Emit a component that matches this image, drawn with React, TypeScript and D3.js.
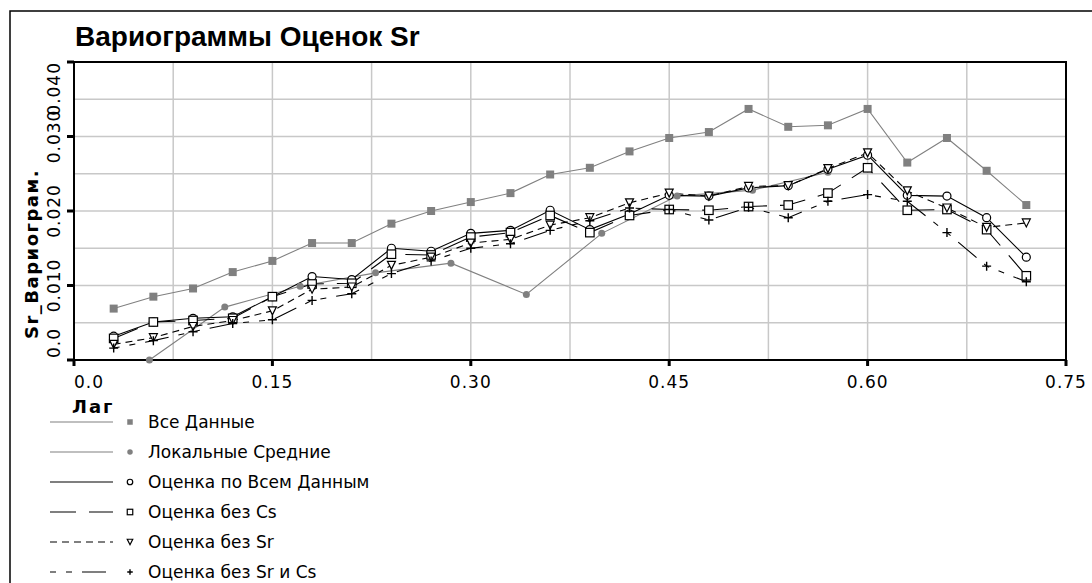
import React from "react";
import * as d3 from "d3";

const lags = [0.03, 0.06, 0.09, 0.12, 0.15, 0.18, 0.21, 0.24, 0.27, 0.30, 0.33, 0.36,
  0.39, 0.42, 0.45, 0.48, 0.51, 0.54, 0.57, 0.60, 0.63, 0.66, 0.69, 0.72];
const localLags = [0.057, 0.114, 0.171, 0.228, 0.285, 0.342, 0.399, 0.456, 0.513, 0.570];

const allData = [0.0069, 0.0085, 0.0096, 0.0118, 0.0133, 0.0157, 0.0157, 0.0183, 0.0200, 0.0212, 0.0224, 0.0249,
  0.0258, 0.0280, 0.0298, 0.0306, 0.0337, 0.0313, 0.0315, 0.0337, 0.0265, 0.0298, 0.0254, 0.0208];
const localMeans = [0.0, 0.0071, 0.0099, 0.0117, 0.0130, 0.0088, 0.0170, 0.0220, 0.0228, 0.0252];
const estAll = [0.0032, 0.0051, 0.0056, 0.0058, 0.0085, 0.0112, 0.0108, 0.0150, 0.0146, 0.0170, 0.0174, 0.0201,
  0.0175, 0.0196, 0.0221, 0.0220, 0.0231, 0.0234, 0.0256, 0.0275, 0.0221, 0.0220, 0.0191, 0.0138];
const estNoCs = [0.0029, 0.0051, 0.0053, 0.0056, 0.0085, 0.0102, 0.0103, 0.0142, 0.0141, 0.0165, 0.0171, 0.0194,
  0.0171, 0.0194, 0.0202, 0.0201, 0.0206, 0.0208, 0.0224, 0.0258, 0.0201, 0.0202, 0.0175, 0.0113];
const estNoSr = [0.0021, 0.0030, 0.0045, 0.0053, 0.0066, 0.0095, 0.0098, 0.0127, 0.0138, 0.0157, 0.0162, 0.0181,
  0.0191, 0.0211, 0.0224, 0.0220, 0.0233, 0.0234, 0.0257, 0.0278, 0.0227, 0.0204, 0.0178, 0.0184];
const estNoSrCs = [0.0016, 0.0026, 0.0038, 0.0049, 0.0054, 0.0080, 0.0089, 0.0116, 0.0133, 0.0150, 0.0156, 0.0174,
  0.0187, 0.0204, 0.0202, 0.0188, 0.0205, 0.0191, 0.0213, 0.0222, 0.0213, 0.0171, 0.0126, 0.0105];

const xTicks = [0, 0.15, 0.30, 0.45, 0.60, 0.75];
const xTickLabels = ["0.0", "0.15", "0.30", "0.45", "0.60", "0.75"];
const yTicks = [0, 0.01, 0.02, 0.03, 0.04];
const yTickLabels = ["0.0", "0.010", "0.020", "0.030", "0.040"];
const xGrid = [0.075, 0.15, 0.225, 0.30, 0.375, 0.45, 0.525, 0.60, 0.675];
const yGrid = [0.005, 0.01, 0.015, 0.02, 0.025, 0.03, 0.035];

const legendNames = ["Все Данные", "Локальные Средние", "Оценка по Всем Данным", "Оценка без Cs", "Оценка без Sr", "Оценка без Sr и Cs"];

type MarkerKind = "fsquare" | "fcircle" | "ocircle" | "osquare" | "otri" | "plus";

function Marker({ kind, x, y, s }: { kind: MarkerKind; x: number; y: number; s: number }) {
  const h = s / 2;
  if (kind === "fsquare") return <rect x={x - h} y={y - h} width={s} height={s} fill="#808080" />;
  if (kind === "fcircle") return <circle cx={x} cy={y} r={h} fill="#808080" />;
  if (kind === "ocircle") return <circle cx={x} cy={y} r={h} fill="#fff" stroke="#000" strokeWidth={1.2} />;
  if (kind === "osquare") return <rect x={x - h} y={y - h} width={s} height={s} fill="#fff" stroke="#000" strokeWidth={1.2} />;
  if (kind === "otri") return <path d={`M${x - h},${y - h}L${x + h},${y - h}L${x},${y + h}Z`} fill="#fff" stroke="#000" strokeWidth={1.2} />;
  return <path d={`M${x - h},${y}H${x + h}M${x},${y - h}V${y + h}`} stroke="#000" strokeWidth={1.4} />;
}

export default function App() {
  const L = 74, R = 1066, T = 62, B = 360;
  const x = d3.scaleLinear().domain([0, 0.75]).range([L, R]);
  const y = d3.scaleLinear().domain([0, 0.04]).range([B, T]);
  const line = d3.line<[number, number]>().x(d => x(d[0])).y(d => y(d[1]));

  const series = [
    { name: legendNames[0], xs: lags, ys: allData, color: "#808080", dash: "", marker: "fsquare" as MarkerKind, ms: 8 },
    { name: legendNames[1], xs: localLags, ys: localMeans, color: "#808080", dash: "", marker: "fcircle" as MarkerKind, ms: 7 },
    { name: legendNames[2], xs: lags, ys: estAll, color: "#000", dash: "", marker: "ocircle" as MarkerKind, ms: 8 },
    { name: legendNames[3], xs: lags, ys: estNoCs, color: "#000", dash: "26,13", marker: "osquare" as MarkerKind, ms: 8.5 },
    { name: legendNames[4], xs: lags, ys: estNoSr, color: "#000", dash: "7,5", marker: "otri" as MarkerKind, ms: 8 },
    { name: legendNames[5], xs: lags, ys: estNoSrCs, color: "#000", dash: "6,10,6,10,24,10", marker: "plus" as MarkerKind, ms: 9 },
  ];

  const legendY = [422, 452, 482, 512, 542, 572];
  const tickFont = "'DejaVu Sans', sans-serif";

  return (
    <svg width={1092} height={583} style={{ position: "absolute", left: 0, top: 0, background: "#fff" }}>
      <rect x={10} y={11} width={1200} height={700} fill="#fff" stroke="#000" strokeWidth={1.5} />
      <text x={75} y={46} fontFamily="'Liberation Sans', Arial, sans-serif" fontWeight="bold" fontSize={28}>Вариограммы Оценок Sr</text>

      {/* grid */}
      {xGrid.map((g, i) => <line key={"gx" + i} x1={x(g)} x2={x(g)} y1={T} y2={B} stroke="#c8c8c8" strokeWidth={1.5} />)}
      {yGrid.map((g, i) => <line key={"gy" + i} x1={L} x2={R} y1={y(g)} y2={y(g)} stroke="#c8c8c8" strokeWidth={1.5} />)}

      {/* frame */}
      <rect x={L} y={T} width={R - L} height={B - T} fill="none" stroke="#000" strokeWidth={2} />

      {/* ticks */}
      {yTicks.map((t, i) => <line key={"yt" + i} x1={L - 7} x2={L} y1={y(t)} y2={y(t)} stroke="#000" strokeWidth={3} />)}
      {xTicks.map((t, i) => <line key={"xt" + i} x1={x(t)} x2={x(t)} y1={B} y2={B + 6} stroke="#000" strokeWidth={3} />)}

      {/* tick labels */}
      {xTicks.map((t, i) => (
        <text key={"xl" + i} x={x(t)} y={388} textAnchor={i === 0 ? "start" : "middle"} fontFamily={tickFont} fontSize={17} letterSpacing={1}>{xTickLabels[i]}</text>
      ))}
      {yTicks.map((t, i) => (
        <text key={"yl" + i} transform={`translate(60,${i === 0 ? y(t) - 2 : y(t)}) rotate(-90)`} textAnchor={i === 0 ? "start" : i === yTicks.length - 1 ? "end" : "middle"} fontFamily={tickFont} fontSize={17} letterSpacing={1}>{yTickLabels[i]}</text>
      ))}

      {/* axis titles */}
      <text transform="translate(38,254) rotate(-90)" textAnchor="middle" fontFamily={tickFont} fontWeight="bold" fontSize={18} letterSpacing={1.5}>Sr_Вариограм.</text>
      <text x={72} y={413} fontFamily={tickFont} fontWeight="bold" fontSize={18} letterSpacing={2}>Лаг</text>

      {/* lines */}
      {series.map((s, i) => (
        <path key={"l" + i} d={line(s.xs.map((v, j) => [v, s.ys[j]]) as [number, number][]) || ""} fill="none" stroke={s.color} strokeWidth={1.1} strokeDasharray={s.dash} />
      ))}
      {/* markers */}
      {series.map((s, i) => (
        <g key={"m" + i}>
          {s.xs.map((v, j) => <Marker key={j} kind={s.marker} x={x(v)} y={y(s.ys[j])} s={s.ms} />)}
        </g>
      ))}

      {/* legend */}
      {series.map((s, i) => (
        <g key={"lg" + i}>
          <line x1={50} x2={113} y1={legendY[i]} y2={legendY[i]} stroke={s.color} strokeWidth={1.2} strokeDasharray={s.dash} />
          <Marker kind={s.marker} x={130} y={legendY[i]} s={5.5} />
          <text x={148} y={legendY[i] + 6} fontFamily={tickFont} fontSize={17}>{s.name}</text>
        </g>
      ))}
    </svg>
  );
}
